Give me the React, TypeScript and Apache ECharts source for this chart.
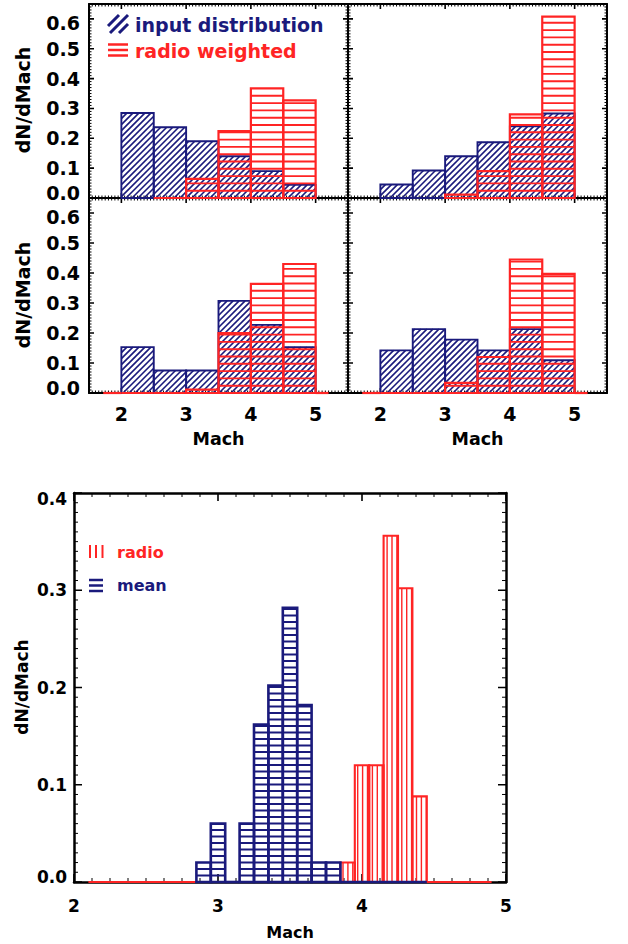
import React, { useEffect, useRef } from "react";
import * as echarts from "echarts";

const NAVY = "#1a1a7c";
const RED = "#ff2424";
const FONT = "DejaVu Sans";

// Four upper panels: dN/dMach in bins of width 0.5 between Mach 2 and 5
const upperEdges = [2, 2.5, 3, 3.5, 4, 4.5, 5];
const tlInput = [0.285, 0.237, 0.19, 0.14, 0.09, 0.044];
const tlRadio = [null, 0, 0.064, 0.224, 0.367, 0.327];
const trInput = [0.045, 0.092, 0.14, 0.187, 0.24, 0.283];
const trRadio = [null, null, 0.011, 0.09, 0.28, 0.608];
const blInput = [0.153, 0.075, 0.075, 0.307, 0.227, 0.153];
const blRadio = [0, 0, 0.011, 0.2, 0.364, 0.43];
const brInput = [0.142, 0.213, 0.178, 0.142, 0.213, 0.109];
const brRadio = [0, 0, 0.034, 0.12, 0.445, 0.397];
// zero-level stretches of the radio-weighted curve outside the binned range
const lowerRadioTails = [
  [1.72, 2.0],
  [5.0, 5.2],
];

// Lower figure: dN/dMach in bins of width 0.1
const meanEdges = [2.85, 2.95, 3.05, 3.15, 3.25, 3.35, 3.45, 3.55, 3.65, 3.75, 3.85];
const meanValues = [0.02, 0.06, 0, 0.06, 0.162, 0.202, 0.282, 0.182, 0.02, 0.02];
const meanTails = [[3.85, 4.45]];
const radioEdges = [3.85, 3.95, 4.05, 4.15, 4.25, 4.35, 4.45];
const radioValues = [0.02, 0.12, 0.12, 0.356, 0.302, 0.088];
const radioTails = [
  [2.1, 3.85],
  [4.45, 4.9],
];

// Axis ranges, tick marks and tick labels
const upperX = { min: 1.5, max: 5.5, splitNumber: 4 };
const upperY = { min: 0, max: 0.65, interval: 0.1 };
const lowerX = { min: 2, max: 5, interval: 1 };
const lowerY = { min: 0, max: 0.4, interval: 0.1 };
const upperXMajor = [2, 3, 4, 5];
const upperYMajor = [0, 0.1, 0.2, 0.3, 0.4, 0.5, 0.6];
const lowerXMajor = [2, 3, 4, 5];
const lowerYMajor = [0, 0.1, 0.2, 0.3, 0.4];

const steps = (from: number, to: number, step: number, skip: number[]) => {
  const out: number[] = [];
  const n = Math.round((to - from) / step);
  for (let i = 0; i <= n; i++) {
    const v = +(from + i * step).toFixed(6);
    if (!skip.some((s) => Math.abs(s - v) < 1e-9)) out.push(v);
  }
  return out;
};
const upperXMinor = steps(1.55, 5.45, 0.05, upperXMajor);
const upperYMinor = steps(0.01, 0.64, 0.01, upperYMajor);
const lowerXMinor = steps(2.125, 4.875, 0.125, lowerXMajor);
const lowerYMinor = steps(0.01, 0.39, 0.01, lowerYMajor);

type Item = [number, number, number];
type HatchKind = "diag" | "horiz" | "vert";
interface HistStyle {
  color: string;
  hatch: HatchKind;
  gap: number;
  hatchWidth: number;
  edgeWidth: number;
}

const binsToItems = (edges: number[], values: (number | null)[]): Item[] => {
  const out: Item[] = [];
  values.forEach((v, i) => {
    if (v !== null) out.push([edges[i], edges[i + 1], v]);
  });
  return out;
};
const spansToItems = (spans: number[][]): Item[] => spans.map((s) => [s[0], s[1], 0] as Item);

const r2 = (n: number) => Math.round(n * 100) / 100;

// Hatched histogram bars: each bin is an outlined box filled with line hatching
const histSeries = (grid: number, items: Item[], st: HistStyle) => ({
  type: "custom",
  xAxisIndex: grid * 2,
  yAxisIndex: grid * 2,
  data: items,
  encode: { x: [0, 1], y: 2 },
  silent: true,
  renderItem: (_params: any, api: any) => {
    const x0 = api.value(0) as number;
    const x1 = api.value(1) as number;
    const v = api.value(2) as number;
    const a = api.coord([x0, 0]);
    const b = api.coord([x1, v]);
    const left = a[0];
    const right = b[0];
    const base = a[1];
    const top = b[1];
    if (v <= 0) {
      return {
        type: "line",
        shape: { x1: left, y1: base, x2: right, y2: base },
        style: { stroke: st.color, lineWidth: st.edgeWidth },
      };
    }
    let d = "";
    const g = st.gap;
    if (st.hatch === "horiz") {
      for (let y = base - g; y > top + 1; y -= g) {
        d += `M${r2(left)} ${r2(y)}L${r2(right)} ${r2(y)}`;
      }
    } else if (st.hatch === "vert") {
      for (let x = Math.ceil(left / g) * g; x < right - 0.5; x += g) {
        if (x - left < 0.8) continue;
        d += `M${r2(x)} ${r2(top)}L${r2(x)} ${r2(base)}`;
      }
    } else {
      const cStart = Math.ceil((left + top) / g) * g;
      for (let c = cStart; c < right + base; c += g) {
        const xa = Math.max(left, c - base);
        const xb = Math.min(right, c - top);
        if (xb > xa + 0.3) d += `M${r2(xa)} ${r2(c - xa)}L${r2(xb)} ${r2(c - xb)}`;
      }
    }
    const children: any[] = [];
    if (d) {
      children.push({
        type: "path",
        shape: { pathData: d },
        style: { stroke: st.color, lineWidth: st.hatchWidth, fill: "none" },
      });
    }
    children.push({
      type: "rect",
      shape: { x: left, y: top, width: right - left, height: base - top },
      style: { stroke: st.color, lineWidth: st.edgeWidth, fill: "none" },
    });
    return { type: "group", children };
  },
});

// Frame decoration of one grid, drawn from its axes' scales: inward tick marks on
// all four sides (one path for the major ticks, one for the minor ticks) and,
// optionally, the y tick labels, whose two end labels are nudged inside the frame.
interface Marks {
  xMajor: number[];
  xMinor: number[];
  yMajor: number[];
  yMinor: number[];
}
interface YLabels {
  values: number[];
  size: number;
  margin: number;
  upShift: number;
  downShift: number;
}
const frameSeries = (
  grid: number,
  xr: any,
  yr: any,
  marks: Marks,
  major: number,
  minor: number,
  labels: YLabels | null
) => ({
  type: "custom",
  xAxisIndex: grid * 2,
  yAxisIndex: grid * 2,
  silent: true,
  encode: { x: 0, y: 1 },
  data: [[xr.min, yr.min]],
  renderItem: (_params: any, api: any) => {
    const lo = api.coord([xr.min, yr.min]);
    const hi = api.coord([xr.max, yr.max]);
    const ticks = (xs: number[], ys: number[], len: number) => {
      let d = "";
      xs.forEach((v) => {
        const px = r2(api.coord([v, yr.min])[0]);
        d += `M${px} ${r2(lo[1])}L${px} ${r2(lo[1] - len)}M${px} ${r2(hi[1])}L${px} ${r2(hi[1] + len)}`;
      });
      ys.forEach((v) => {
        const py = r2(api.coord([xr.min, v])[1]);
        d += `M${r2(lo[0])} ${py}L${r2(lo[0] + len)} ${py}M${r2(hi[0])} ${py}L${r2(hi[0] - len)} ${py}`;
      });
      return d;
    };
    const children: any[] = [
      {
        type: "path",
        shape: { pathData: ticks(marks.xMinor, marks.yMinor, minor) },
        style: { stroke: "#000", lineWidth: 1, fill: "none" },
      },
      {
        type: "path",
        shape: { pathData: ticks(marks.xMajor, marks.yMajor, major) },
        style: { stroke: "#000", lineWidth: 1.6, fill: "none" },
      },
    ];
    if (labels) {
      const topV = labels.values[labels.values.length - 1];
      labels.values.forEach((v) => {
        const py = api.coord([xr.min, v])[1];
        let dy = 0;
        if (v < 1e-6) dy = -labels.upShift;
        else if (Math.abs(v - topV) < 1e-6) dy = labels.downShift;
        children.push({
          type: "text",
          x: lo[0] - labels.margin,
          y: py + dy,
          style: {
            text: v.toFixed(1),
            fill: "#000",
            font: `bold ${labels.size}px "${FONT}"`,
            align: "right",
            verticalAlign: "middle",
            textAlign: "right",
            textVerticalAlign: "middle",
          },
        });
      });
    }
    return { type: "group", children };
  },
});

const upperInputStyle: HistStyle = { color: NAVY, hatch: "diag", gap: 6, hatchWidth: 1.6, edgeWidth: 1.9 };
const upperRadioStyle: HistStyle = { color: RED, hatch: "horiz", gap: 7.3, hatchWidth: 1.9, edgeWidth: 2.2 };
const meanStyle: HistStyle = { color: NAVY, hatch: "horiz", gap: 6.5, hatchWidth: 1.9, edgeWidth: 2.6 };
const radioStyle: HistStyle = { color: RED, hatch: "vert", gap: 4.9, hatchWidth: 1.4, edgeWidth: 2.1 };

const tickText = (size: number) => ({ color: "#000", fontFamily: FONT, fontWeight: "bold", fontSize: size });

const makeAxis = (gridIndex: number, position: string, r: any, frame: number, extra: any = {}) => ({
  type: "value",
  gridIndex,
  position,
  min: r.min,
  max: r.max,
  ...(r.interval ? { interval: r.interval } : { splitNumber: r.splitNumber }),
  axisLine: { show: true, onZero: false, lineStyle: { color: "#000", width: frame } },
  axisTick: { show: false },
  minorTick: { show: false },
  splitLine: { show: false },
  minorSplitLine: { show: false },
  axisLabel: { show: false },
  ...extra,
});

const buildOption = () => {
  const grids = [
    { left: 89, top: 4, width: 259, height: 194 },
    { left: 348, top: 4, width: 259, height: 194 },
    { left: 89, top: 198, width: 259, height: 195 },
    { left: 348, top: 198, width: 259, height: 195 },
    { left: 74, top: 493, width: 432, height: 389 },
  ];

  const upperXLabel = {
    axisLabel: {
      show: true,
      ...tickText(19),
      margin: 11,
      showMinLabel: false,
      showMaxLabel: false,
      formatter: (v: number) => String(v),
    },
    name: "Mach",
    nameLocation: "middle",
    nameGap: 37,
    nameTextStyle: { color: "#000", fontFamily: FONT, fontWeight: "bold", fontSize: 17.5 },
  };

  const xAxis: any[] = [];
  const yAxis: any[] = [];
  for (let g = 0; g < 4; g++) {
    const lowerRow = g >= 2;
    xAxis.push(makeAxis(g, "bottom", upperX, 2, lowerRow ? upperXLabel : {}));
    xAxis.push(makeAxis(g, "top", upperX, 2));
    yAxis.push(makeAxis(g, "left", upperY, 2));
    yAxis.push(makeAxis(g, "right", upperY, 2));
  }
  xAxis.push(
    makeAxis(4, "bottom", lowerX, 2.5, {
      axisLabel: { show: true, ...tickText(17), margin: 15, formatter: (v: number) => String(v) },
      name: "Mach",
      nameLocation: "middle",
      nameGap: 42,
      nameTextStyle: { color: "#000", fontFamily: FONT, fontWeight: "bold", fontSize: 16 },
    })
  );
  xAxis.push(makeAxis(4, "top", lowerX, 2.5));
  yAxis.push(makeAxis(4, "left", lowerY, 2.5));
  yAxis.push(makeAxis(4, "right", lowerY, 2.5));

  const upperMarks: Marks = { xMajor: upperXMajor, xMinor: upperXMinor, yMajor: upperYMajor, yMinor: upperYMinor };
  const lowerMarks: Marks = { xMajor: lowerXMajor, xMinor: lowerXMinor, yMajor: lowerYMajor, yMinor: lowerYMinor };
  const upperLabels: YLabels = { values: upperYMajor, size: 19, margin: 9, upShift: 5, downShift: 4 };
  const lowerLabels: YLabels = { values: lowerYMajor, size: 17, margin: 7, upShift: 5, downShift: 6 };

  const series = [
    frameSeries(0, upperX, upperY, upperMarks, 5, 2.5, upperLabels),
    frameSeries(1, upperX, upperY, upperMarks, 5, 2.5, null),
    frameSeries(2, upperX, upperY, upperMarks, 5, 2.5, upperLabels),
    frameSeries(3, upperX, upperY, upperMarks, 5, 2.5, null),
    frameSeries(4, lowerX, lowerY, lowerMarks, 8, 4, lowerLabels),
    histSeries(0, binsToItems(upperEdges, tlInput), upperInputStyle),
    histSeries(0, binsToItems(upperEdges, tlRadio), upperRadioStyle),
    histSeries(1, binsToItems(upperEdges, trInput), upperInputStyle),
    histSeries(1, binsToItems(upperEdges, trRadio), upperRadioStyle),
    histSeries(2, binsToItems(upperEdges, blInput), upperInputStyle),
    histSeries(2, [...spansToItems(lowerRadioTails), ...binsToItems(upperEdges, blRadio)], upperRadioStyle),
    histSeries(3, binsToItems(upperEdges, brInput), upperInputStyle),
    histSeries(3, [...spansToItems(lowerRadioTails), ...binsToItems(upperEdges, brRadio)], upperRadioStyle),
    histSeries(4, [...spansToItems(radioTails), ...binsToItems(radioEdges, radioValues)], radioStyle),
    histSeries(4, [...spansToItems(meanTails), ...binsToItems(meanEdges, meanValues)], meanStyle),
  ];

  const vText = (x: number, y: number, size: number) => ({
    type: "text",
    x,
    y,
    rotation: Math.PI / 2,
    style: {
      text: "dN/dMach",
      fill: "#000",
      font: `bold ${size}px "${FONT}"`,
      textAlign: "center",
      textVerticalAlign: "middle",
      verticalAlign: "middle",
    },
  });
  const label = (x: number, y: number, text: string, color: string, size: number) => ({
    type: "text",
    x,
    y,
    style: {
      text,
      fill: color,
      font: `bold ${size}px "${FONT}"`,
      textAlign: "left",
      textVerticalAlign: "middle",
      verticalAlign: "middle",
    },
  });
  const seg = (x1: number, y1: number, x2: number, y2: number, color: string, w: number) => ({
    type: "line",
    shape: { x1, y1, x2, y2 },
    style: { stroke: color, lineWidth: w },
  });

  const graphic = [
    vText(23, 100, 19),
    vText(23, 295, 19),
    vText(22, 687, 17),
    // legend of the upper panels
    seg(108, 26, 119, 15, NAVY, 3),
    seg(110, 33, 128, 15, NAVY, 3),
    seg(119, 33, 128, 24, NAVY, 3),
    label(135, 25, "input distribution", NAVY, 19),
    seg(108, 44.5, 128, 44.5, RED, 2.5),
    seg(108, 50, 128, 50, RED, 2.5),
    seg(108, 55.5, 128, 55.5, RED, 2.5),
    label(135, 51, "radio weighted", RED, 19),
    // legend of the lower figure
    seg(90, 545, 90, 558, RED, 2),
    seg(96, 545, 96, 558, RED, 2),
    seg(102.5, 545, 102.5, 558, RED, 2),
    label(117, 552, "radio", RED, 16),
    seg(89, 580, 103, 580, NAVY, 2.5),
    seg(89, 585.5, 103, 585.5, NAVY, 2.5),
    seg(89, 591, 103, 591, NAVY, 2.5),
    label(117, 585, "mean", NAVY, 16),
  ];

  return {
    animation: false,
    backgroundColor: "#fff",
    grid: grids,
    xAxis,
    yAxis,
    series,
    graphic,
  };
};

export default function App() {
  const ref = useRef<HTMLDivElement>(null);
  useEffect(() => {
    if (!ref.current) return;
    const chart = echarts.init(ref.current, null, { renderer: "svg" });
    chart.setOption(buildOption() as any);
    return () => chart.dispose();
  }, []);
  return (
    <div
      ref={ref}
      style={{ position: "absolute", left: 0, top: 0, width: 628, height: 944, background: "#fff" }}
    />
  );
}
